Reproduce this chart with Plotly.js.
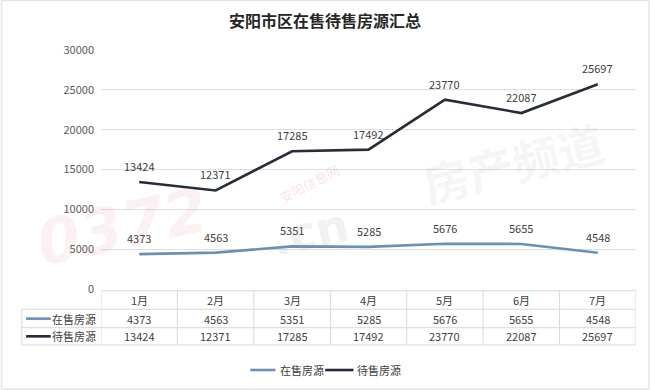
<!DOCTYPE html>
<html>
<head>
<meta charset="utf-8">
<script src="https://cdn.plot.ly/plotly-3.0.1.min.js"></script>
<style>
html,body{margin:0;padding:0;background:#fff;}
#chart{width:650px;height:390px;}
</style>
</head>
<body>
<div id="chart"></div>
<script>
const months = ["1月","2月","3月","4月","5月","6月","7月"];
const onSaleName = "在售房源";
const pendingName = "待售房源";
const onSale = [4373, 4563, 5351, 5285, 5676, 5655, 4548];
const pending = [13424, 12371, 17285, 17492, 23770, 22087, 25697];
const yTicks = [0, 5000, 10000, 15000, 20000, 25000, 30000];

const blue = "#6b8fb6";
const dark = "#262d39";
const font = "Noto Sans CJK SC, Noto Sans, sans-serif";
const textCol = "#404040";
const border = "#d9d9d9";

const xi = months.map((m, i) => i);

const traces = [
  {x: xi, y: onSale, mode: "lines", name: onSaleName, line: {color: blue, width: 2.6}, hoverinfo: "skip"},
  {x: xi, y: pending, mode: "lines", name: pendingName, line: {color: dark, width: 2.6}, hoverinfo: "skip"}
];

const annotations = [];
const shapes = [];
function ann(o) {
  annotations.push(Object.assign({showarrow: false, xanchor: "center", yanchor: "middle"}, o));
}

// value labels above points
[onSale, pending].forEach(series => {
  series.forEach((v, i) => {
    ann({x: i, y: v, xref: "x", yref: "y", text: String(v), yshift: 16, font: {family: font, size: 11, color: textCol}});
  });
});

// table geometry (paper coords)
const rowTop = -0.007, row1 = -0.085, row2 = -0.162, rowBot = -0.234;
const hdrY = -0.046, r1Y = -0.124, r2Y = -0.198;
const labelLeft = -0.148;

shapes.push({type: "line", xref: "x", yref: "paper", x0: -0.5, x1: months.length - 0.5, y0: rowTop, y1: rowTop, line: {color: border, width: 1}});
[row1, row2, rowBot].forEach(yy => {
  shapes.push({type: "line", xref: "paper", yref: "paper", x0: labelLeft, x1: 1, y0: yy, y1: yy, line: {color: border, width: 1}});
});
for (let k = 0; k <= months.length; k++) {
  shapes.push({type: "line", xref: "x", yref: "paper", x0: k - 0.5, x1: k - 0.5, y0: rowTop, y1: rowBot, line: {color: border, width: 1}});
}
shapes.push({type: "line", xref: "paper", yref: "paper", x0: labelLeft, x1: labelLeft, y0: row1, y1: rowBot, line: {color: border, width: 1}});

months.forEach((m, i) => {
  ann({x: i, y: hdrY, xref: "x", yref: "paper", text: m, font: {family: font, size: 11, color: textCol}});
  ann({x: i, y: r1Y, xref: "x", yref: "paper", text: String(onSale[i]), font: {family: font, size: 11, color: textCol}});
  ann({x: i, y: r2Y, xref: "x", yref: "paper", text: String(pending[i]), font: {family: font, size: 11, color: textCol}});
});
[[onSaleName, r1Y, blue], [pendingName, r2Y, dark]].forEach(([name, yy, col]) => {
  shapes.push({type: "line", xref: "paper", yref: "paper", x0: -0.14, x1: -0.094, y0: yy, y1: yy, line: {color: col, width: 2.6}});
  ann({x: -0.006, y: yy, xref: "paper", yref: "paper", xanchor: "right", text: name, font: {family: font, size: 11, color: textCol}});
});

// legend (drawn manually for tight spacing)
const legY = -0.339;
shapes.push({type: "line", xref: "paper", yref: "paper", x0: 0.279, x1: 0.326, y0: legY, y1: legY, line: {color: blue, width: 2.6}});
ann({x: 0.331, y: legY, xref: "paper", yref: "paper", xanchor: "left", text: onSaleName, font: {family: font, size: 11, color: textCol}});
shapes.push({type: "line", xref: "paper", yref: "paper", x0: 0.419, x1: 0.472, y0: legY, y1: legY, line: {color: dark, width: 2.6}});
ann({x: 0.474, y: legY, xref: "paper", yref: "paper", xanchor: "left", text: pendingName, font: {family: font, size: 11, color: textCol}});

// faint watermark
ann({x: 0.04, y: 0.26, xref: "paper", yref: "paper", text: "<b><i>0372</i></b>", textangle: -12, font: {family: "DejaVu Sans", size: 62, color: "rgba(225,120,130,0.10)"}});
ann({x: 0.39, y: 0.24, xref: "paper", yref: "paper", text: "<b>.cn</b>", textangle: -12, font: {family: "DejaVu Sans", size: 46, color: "rgba(150,150,150,0.14)"}});
ann({x: 0.39, y: 0.44, xref: "paper", yref: "paper", text: "安阳信息网", textangle: -28, font: {family: font, size: 13, color: "rgba(225,120,130,0.22)"}});
ann({x: 0.77, y: 0.53, xref: "paper", yref: "paper", text: "<b>房产频道</b>", textangle: -14, font: {family: font, size: 46, color: "rgba(150,150,150,0.11)"}});

// outer light border
shapes.push({type: "rect", xref: "paper", yref: "paper", x0: -0.186, x1: 1.024, y0: -0.418, y1: 1.207, line: {color: "#e6e6e6", width: 1.5}});

const layout = {
  width: 650, height: 390,
  margin: {l: 101, r: 14, t: 50, b: 101},
  paper_bgcolor: "#ffffff", plot_bgcolor: "#ffffff",
  showlegend: false,
  title: {text: "<b>安阳市区在售待售房源汇总</b>", x: 0.5, xref: "container", y: 0.945, yref: "container", yanchor: "middle",
    font: {family: font, size: 16, color: "#262626"}},
  xaxis: {range: [-0.5, months.length - 0.5], showticklabels: false, showgrid: false, zeroline: false, showline: false, fixedrange: true},
  yaxis: {range: [0, 30000], tickvals: yTicks, ticktext: yTicks.map(String), showgrid: true, gridcolor: "#dedede", gridwidth: 1,
    zeroline: false, showline: false, ticks: "", ticklabelstandoff: 6,
    tickfont: {family: font, size: 11, color: "#595959"}, fixedrange: true},
  shapes: shapes,
  annotations: annotations
};

Plotly.newPlot("chart", traces, layout, {displayModeBar: false, staticPlot: true});
</script>
</body>
</html>
